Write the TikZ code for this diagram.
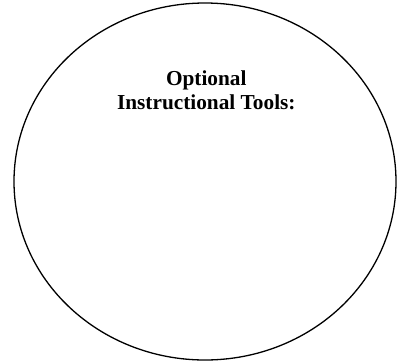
\documentclass[tikz,border=0pt]{standalone}
\usepackage{fontspec}
\setmainfont{Liberation Serif}
\begin{document}
\begin{tikzpicture}[x=1pt,y=1pt,
  bubble/.style={draw=black,line width=1.3pt},
  heading/.style={font=\fontsize{21.3}{24}\selectfont\bfseries,align=center,anchor=base,inner sep=0pt}]
\useasboundingbox (0,0) rectangle (401,-362);
\draw[bubble] (205,-181.5) ellipse [x radius=191, y radius=178.5];
\node[heading] (t1) at (206.3,-85) {Optional};
\node[heading] (t2) at (206.3,-109) {Instructional Tools:};
\end{tikzpicture}
\end{document}
